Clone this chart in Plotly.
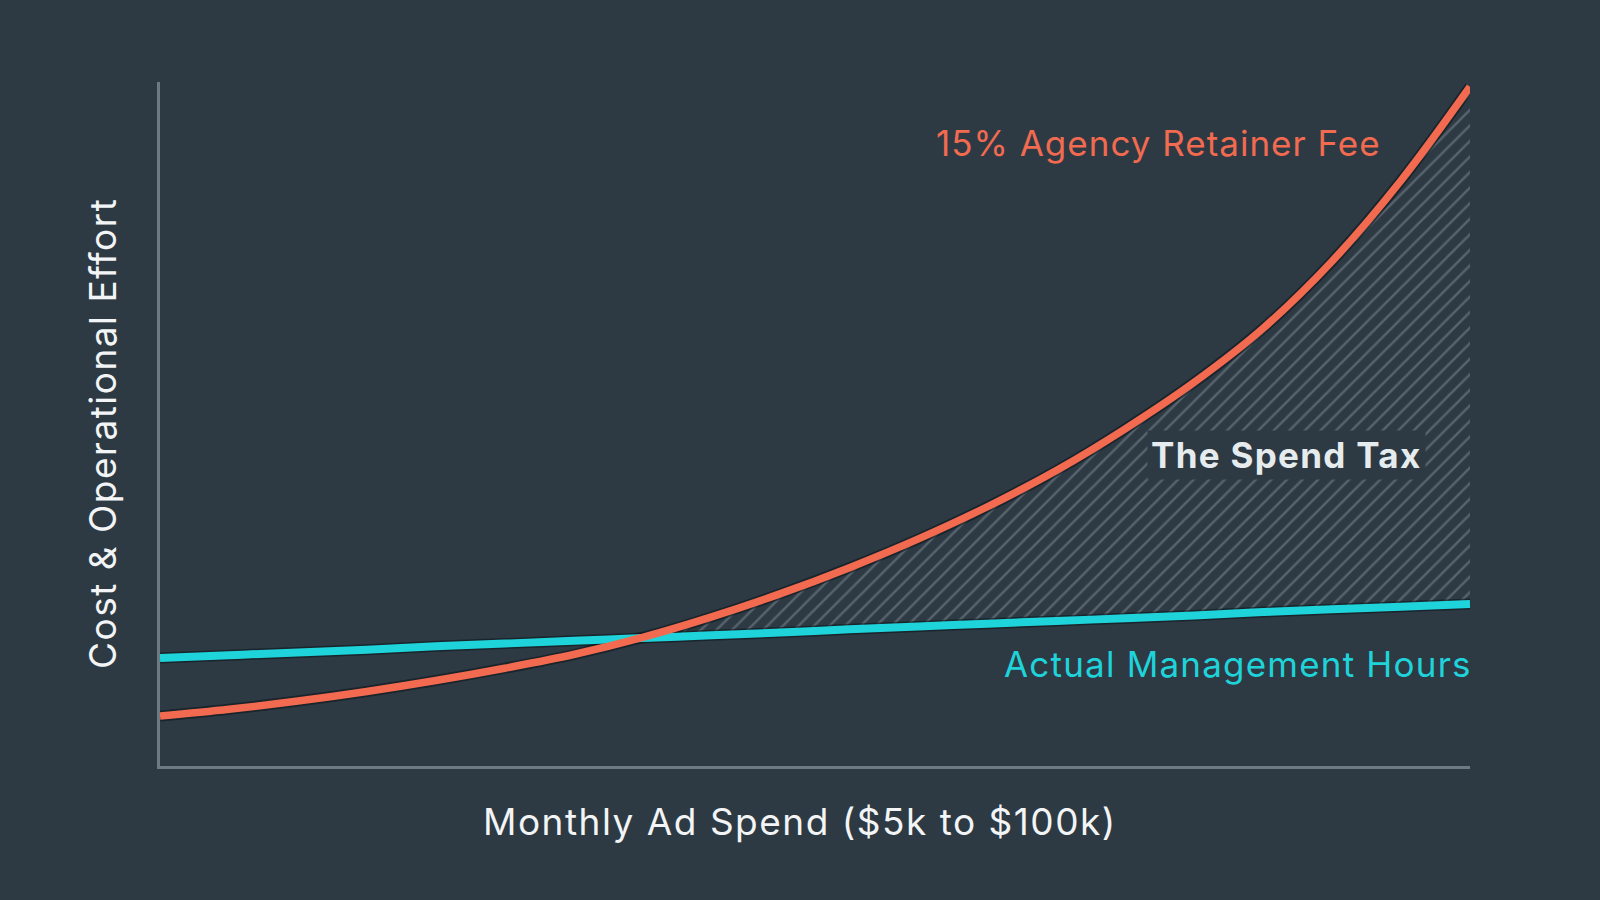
import plotly.graph_objects as go

# Monthly ad spend ($k)
spend = [5, 10, 15, 20, 25, 30, 35, 40, 45, 50, 55, 60, 65, 70, 75, 80, 85, 90, 95, 100]
# 15% agency retainer fee (relative cost)
retainer = [7.3, 8.3, 9.5, 10.9, 12.5, 14.3, 16.3, 18.8, 21.8, 25.2, 29.0, 33.2, 37.9, 43.2,
            49.3, 56.1, 64.0, 73.8, 85.6, 99.3]
# Actual management hours (relative effort)
hours = [15.8, 16.2, 16.6, 17.0, 17.5, 17.9, 18.3, 18.7, 19.1, 19.5, 20.0, 20.4, 20.8, 21.2,
         21.6, 22.0, 22.5, 22.9, 23.3, 23.7]

BG = "#2d3a44"
RED = "#f26a4f"
CYAN = "#1fd3da"
AXIS = "#6e7a83"
FONT = "Inter"


def spaced(txt, px):
    return '<span style="letter-spacing:%.1fpx">%s</span>' % (px, txt)


# region where the retainer exceeds actual effort (the "spend tax")
tax_x = [x for x, r, h in zip(spend, retainer, hours) if r >= h]
tax_h = [h for x, r, h in zip(spend, retainer, hours) if r >= h]
tax_r = [r for x, r, h in zip(spend, retainer, hours) if r >= h]

fig = go.Figure()

fig.add_trace(go.Scatter(x=tax_x, y=tax_h, mode="lines", line=dict(width=0, shape="spline"),
                         hoverinfo="skip", showlegend=False))
fig.add_trace(go.Scatter(x=tax_x, y=tax_r, mode="lines", line=dict(width=0, shape="spline"),
                         fill="tonexty", fillcolor="rgba(0,0,0,0)",
                         fillpattern=dict(shape="/", fgcolor="#808c95", bgcolor="rgba(0,0,0,0)",
                                          size=11, solidity=0.23),
                         hoverinfo="skip", showlegend=False))

# subtle dark outlines
for ys in (hours, retainer):
    fig.add_trace(go.Scatter(x=spend, y=ys, mode="lines",
                             line=dict(color="rgba(10,18,24,0.55)", width=11, shape="spline"),
                             hoverinfo="skip", showlegend=False))

fig.add_trace(go.Scatter(x=spend, y=hours, mode="lines", name="Actual Management Hours",
                         line=dict(color=CYAN, width=8, shape="spline"), showlegend=False))
fig.add_trace(go.Scatter(x=spend, y=retainer, mode="lines", name="15% Agency Retainer Fee",
                         line=dict(color=RED, width=7.5, shape="spline"), showlegend=False))

fig.update_layout(
    width=1600, height=900,
    paper_bgcolor=BG, plot_bgcolor=BG,
    margin=dict(l=160, r=130, t=82, b=134),
    font=dict(family=FONT, color="#f0f2f3"),
    xaxis=dict(range=[5, 100], showgrid=False, zeroline=False, showticklabels=False,
               showline=True, linecolor=AXIS, linewidth=3, ticks=""),
    yaxis=dict(range=[0, 100], showgrid=False, zeroline=False, showticklabels=False,
               showline=True, linecolor=AXIS, linewidth=3, ticks=""),
    annotations=[
        dict(text=spaced("15% Agency Retainer Fee", 1.0), x=93.7, y=91.1, xref="x", yref="y",
             xanchor="right", yanchor="middle", showarrow=False,
             font=dict(family=FONT, size=35, color=RED)),
        dict(text="<b>" + spaced("The Spend Tax", 1.3) + "</b>", x=86.7, y=45.5, xref="x", yref="y",
             xanchor="center", yanchor="middle", showarrow=False, bgcolor=BG, borderpad=3,
             font=dict(family=FONT, size=35, color="#e6ebee")),
        dict(text=spaced("Actual Management Hours", 1.2), x=100, y=14.9, xref="x", yref="y",
             xanchor="right", yanchor="middle", showarrow=False, xshift=4,
             font=dict(family=FONT, size=35, color=CYAN)),
        dict(text=spaced("Monthly Ad Spend ($5k to $100k)", 1.5),
             x=(800 - 160) / 1310, y=-(821 - 766) / 684,
             xref="paper", yref="paper", xanchor="center", yanchor="middle", showarrow=False,
             font=dict(family=FONT, size=37, color="#f2f4f5")),
        dict(text=spaced("Cost &amp; Operational Effort", 1.5),
             x=-(160 - 102) / 1310, y=(766 - 434) / 684,
             xref="paper", yref="paper", xanchor="center", yanchor="middle", showarrow=False,
             textangle=-90, font=dict(family=FONT, size=37, color="#f2f4f5")),
    ],
)

fig.write_html("out.html")
